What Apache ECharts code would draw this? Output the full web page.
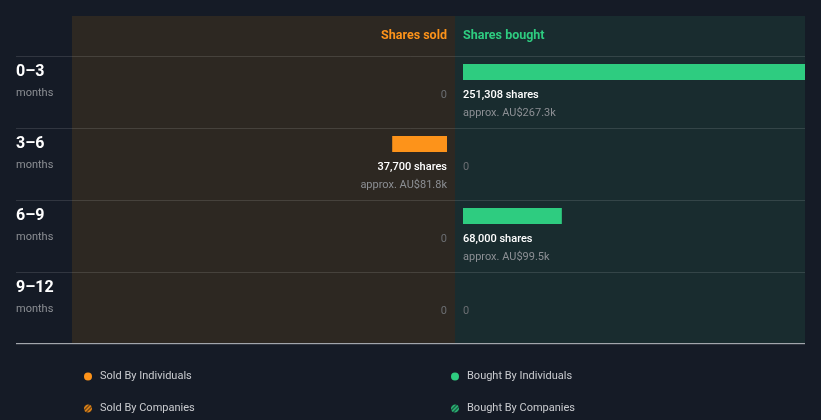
<!DOCTYPE html>
<html><head><meta charset="utf-8">
<script src="https://cdn.jsdelivr.net/npm/echarts@6/dist/echarts.min.js"></script>
<style>html,body{margin:0;padding:0;background:#151b26;}#c{width:821px;height:420px;}</style>
</head><body><div id="c"></div>
<script>
const categories = ['0–3', '3–6', '6–9', '9–12'];
const periodUnit = 'months';
const soldShares = [0, 37700, 0, 0];
const soldValueK = [0, 81.8, 0, 0];
const boughtShares = [251308, 0, 68000, 0];
const boughtValueK = [267.3, 0, 99.5, 0];
const headers = ['Shares sold', 'Shares bought'];
const legendNames = ['Sold By Individuals', 'Sold By Companies', 'Bought By Individuals', 'Bought By Companies'];
const soldAxisMax = 258000;
const boughtAxisMax = 235300;

const ORANGE = '#fd931a', GREEN = '#2ecc80';
const FONT = 'Roboto';

function stripe(fg, bg) {
  const c = document.createElement('canvas');
  c.width = 4; c.height = 4;
  const g = c.getContext('2d');
  g.fillStyle = bg; g.fillRect(0, 0, 4, 4);
  g.strokeStyle = fg; g.lineWidth = 1.4;
  g.beginPath(); g.moveTo(0, 4); g.lineTo(4, 0); g.stroke();
  g.beginPath(); g.moveTo(-1, 1); g.lineTo(1, -1); g.stroke();
  g.beginPath(); g.moveTo(3, 5); g.lineTo(5, 3); g.stroke();
  return { image: c, repeat: 'repeat' };
}

function fmt(shares, valK) {
  return function (p) {
    const i = p.dataIndex;
    if (!shares[i]) return '{z|0}\n{e| }';
    return '{s|' + shares[i].toLocaleString('en-US') + ' shares}\n{a|approx. AU$' + valK[i].toFixed(1) + 'k}';
  };
}
const labelRich = {
  s: { color: '#ffffff', fontSize: 11, fontWeight: 500, fontFamily: FONT, lineHeight: 18 },
  a: { color: '#8c8f94', fontSize: 11, fontFamily: FONT, lineHeight: 18 },
  z: { color: '#6b6e72', fontSize: 11, fontFamily: FONT, lineHeight: 18 },
  e: { fontSize: 11, lineHeight: 18 }
};

function legendItem(name, left, top) {
  return { left: left, top: top, orient: 'horizontal', itemWidth: 8, itemHeight: 8, selectedMode: false,
    data: [{ name: name, icon: 'circle' }],
    textStyle: { color: '#c9cbcf', fontSize: 11, fontFamily: FONT, padding: [0, 0, 0, 3] } };
}

const chart = echarts.init(document.getElementById('c'), null, { renderer: 'canvas' });
chart.setOption({
  backgroundColor: '#151b26',
  animation: false,
  grid: [
    { left: 72, width: 383, top: 16, height: 328, show: true, backgroundColor: '#2d2822', borderWidth: 0 },
    { left: 455, width: 350, top: 16, height: 328, show: true, backgroundColor: '#192c2f', borderWidth: 0 },
    { left: 16, width: 789, top: 56, height: 288 },
    { left: 72, width: 375, top: 36, height: 288 },
    { left: 463, width: 342, top: 36, height: 288 },
    { left: 16, width: 789, top: 343, height: 1, show: true, backgroundColor: '#a2a6ac', borderWidth: 0 }
  ],
  xAxis: [
    { gridIndex: 0, type: 'value', show: false },
    { gridIndex: 1, type: 'value', show: false },
    { gridIndex: 2, type: 'value', show: false },
    { gridIndex: 3, type: 'value', inverse: true, min: 0, max: soldAxisMax, show: false },
    { gridIndex: 4, type: 'value', min: 0, max: boughtAxisMax, show: false }
  ],
  yAxis: [
    { gridIndex: 0, type: 'category', data: categories, show: false },
    { gridIndex: 1, type: 'category', data: categories, show: false },
    { gridIndex: 2, type: 'category', data: categories, inverse: true,
      axisLine: { show: false }, axisTick: { show: false },
      splitLine: { show: true, lineStyle: { color: 'rgba(255,255,255,0.12)', width: 1 } },
      axisLabel: { inside: true, margin: 0, align: 'left',
        formatter: v => '{a|' + v + '}\n{b|' + periodUnit + '}\n{c| }',
        rich: {
          a: { color: '#ffffff', fontSize: 16, fontWeight: 'bold', fontFamily: FONT, lineHeight: 22 },
          b: { color: '#8c8f94', fontSize: 11, fontFamily: FONT, lineHeight: 20 },
          c: { fontSize: 11, lineHeight: 20 }
        } } },
    { gridIndex: 3, type: 'category', data: categories, inverse: true, show: false },
    { gridIndex: 4, type: 'category', data: categories, inverse: true, show: false }
  ],
  legend: [
    legendItem(legendNames[0], 79, 366),
    legendItem(legendNames[1], 79, 398),
    legendItem(legendNames[2], 446, 366),
    legendItem(legendNames[3], 446, 398)
  ],
  graphic: [
    { type: 'text', right: 821 - 447, top: 29,
      style: { text: headers[0], fill: ORANGE, font: 'bold 12.5px Roboto' } },
    { type: 'text', left: 463, top: 29,
      style: { text: headers[1], fill: GREEN, font: 'bold 12.5px Roboto' } }
  ],
  series: [
    { name: legendNames[0], type: 'bar', xAxisIndex: 3, yAxisIndex: 3, data: soldShares, barWidth: 16,
      itemStyle: { color: ORANGE }, clip: true,
      label: { show: true, position: 'insideRight', distance: 0, offset: [0, 32], align: 'right',
        formatter: fmt(soldShares, soldValueK), rich: labelRich } },
    { name: legendNames[2], type: 'bar', xAxisIndex: 4, yAxisIndex: 4, data: boughtShares, barWidth: 16,
      itemStyle: { color: GREEN }, clip: true,
      label: { show: true, position: 'insideLeft', distance: 0, offset: [0, 32], align: 'left',
        formatter: fmt(boughtShares, boughtValueK), rich: labelRich } },
    { name: legendNames[1], type: 'bar', xAxisIndex: 0, yAxisIndex: 0, data: [],
      itemStyle: { color: stripe(ORANGE, '#5a3a12') } },
    { name: legendNames[3], type: 'bar', xAxisIndex: 1, yAxisIndex: 1, data: [],
      itemStyle: { color: stripe(GREEN, '#16473a') } }
  ]
});
</script></body></html>
